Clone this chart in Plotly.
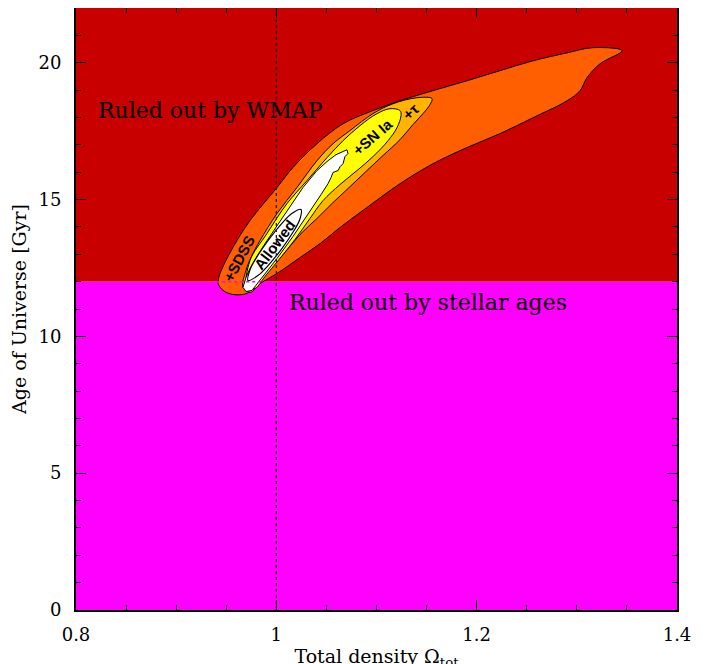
import plotly.graph_objects as go

# ---- data (Omega_tot, Age [Gyr]) ----
x_range = [0.8, 1.4]
y_range = [0, 22]
stellar_age_limit = 12.0

orange_x = [0.9418, 0.942, 0.9438, 0.9567, 0.9737, 1.0007, 1.0166, 1.0406, 1.0666, 1.0965,
            1.1235, 1.1564, 1.1903, 1.2233, 1.2562, 1.2902, 1.3161, 1.3451, 1.3231, 1.3101,
            1.3032, 1.2902, 1.2562, 1.2233, 1.1903, 1.1564, 1.1235, 1.0905, 1.0636, 1.0436,
            1.0236, 1.0007, 0.9837, 0.9707, 0.9567, 0.9468]
orange_y = [11.93, 12.04, 12.30, 13.25, 14.23, 15.44, 16.17, 17.04, 17.77, 18.25,
            18.61, 18.98, 19.34, 19.71, 20.07, 20.36, 20.55, 20.44, 19.96, 19.45,
            18.98, 18.61, 17.99, 17.41, 16.90, 16.31, 15.58, 14.71, 13.98, 13.39,
            12.88, 12.30, 11.93, 11.57, 11.53, 11.68]

gold_x = [0.9667, 0.9697, 0.9757, 0.9837, 1.0007, 1.0206, 1.0406, 1.0566, 1.0735, 1.0965,
          1.1164, 1.1404, 1.1554, 1.1534, 1.1464, 1.1364, 1.1235, 1.1065, 1.0905, 1.0735,
          1.0566, 1.0406, 1.0236, 1.0086, 0.9937, 0.9817, 0.9747]
gold_y = [11.79, 12.41, 12.96, 13.50, 14.49, 15.44, 16.42, 17.04, 17.52, 18.14,
          18.50, 18.72, 18.69, 18.47, 18.14, 17.74, 17.19, 16.61, 16.06, 15.47,
          14.89, 14.31, 13.72, 13.07, 12.45, 11.93, 11.61]

yellow_x = [0.9707, 0.9737, 0.9907, 1.0106, 1.0306, 1.0506, 1.0666, 1.0835, 1.1005, 1.1135,
            1.1235, 1.1245, 1.1205, 1.1115, 1.0965, 1.0815, 1.0636, 1.0466, 1.0336, 1.0186,
            1.0027, 0.9887, 0.9787]
yellow_y = [11.79, 12.77, 13.76, 14.85, 15.69, 16.53, 17.15, 17.70, 18.14, 18.32,
            18.25, 18.07, 17.63, 17.15, 16.57, 16.09, 15.55, 14.96, 14.31, 13.54,
            12.81, 12.19, 11.75]

white_x = [0.9667, 0.9697, 0.9737, 0.9817, 0.9907, 1.0007, 1.0106, 1.0186, 1.0266, 1.0406,
           1.0516, 1.0596, 1.0656, 1.0705, 1.0715, 1.0685, 1.0666, 1.0636, 1.0616, 1.0566,
           1.0546, 1.0516, 1.0446, 1.0326, 1.0166, 1.0007, 0.9867, 0.9757, 0.9697]
white_y = [11.79, 12.15, 12.48, 12.99, 13.50, 14.05, 14.60, 15.04, 15.44, 16.06,
           16.42, 16.64, 16.75, 16.82, 16.68, 16.57, 16.31, 16.20, 16.06, 15.99,
           15.80, 15.58, 15.18, 14.53, 13.65, 12.85, 12.19, 11.68, 11.64]

allowed_x = [0.9717, 0.9739, 0.9800, 0.9922, 1.0060, 1.0154, 1.0246, 1.0234, 1.0172, 1.0050,
             0.9913, 0.9819]
allowed_y = [12.04, 12.45, 12.87, 13.53, 14.15, 14.49, 14.64, 14.27, 13.84, 13.18,
             12.57, 12.23]

x_ticks = [0.8, 1.0, 1.2, 1.4]
x_ticklabels = ["0.8", "1", "1.2", "1.4"]
y_ticks = [0, 5, 10, 15, 20]

# contour labels: (text, x, y, angle)
contour_labels = [
    ("+SDSS", 0.9627, 12.85, -62),
    ("Allowed", 0.9985, 13.35, -53),
    ("+SN Ia", 1.0964, 17.30, -41),
    ("+\u03c4", 1.1344, 18.21, -42),
]

DARKRED = "#C80000"
MAGENTA = "#FF00FF"
ORANGE = "#FF5F00"
GOLD = "#FFB400"
YELLOW = "#FFFF00"

fig = go.Figure()

def region(xs, ys, color, line_w=0, smooth=True):
    fig.add_trace(go.Scatter(x=xs, y=ys, mode="lines", fill="toself", fillcolor=color,
                             line=dict(color="black", width=line_w) if line_w else dict(width=0, color=color),
                             line_shape="spline" if (line_w and smooth) else "linear",
                             hoverinfo="skip", showlegend=False))

# background regions
region([x_range[0], x_range[1], x_range[1], x_range[0]],
       [stellar_age_limit, stellar_age_limit, y_range[1], y_range[1]], DARKRED)
region([x_range[0], x_range[1], x_range[1], x_range[0]],
       [y_range[0], y_range[0], stellar_age_limit, stellar_age_limit], MAGENTA)

# contours
region(orange_x + orange_x[:1], orange_y + orange_y[:1], ORANGE, 1)
region(gold_x + gold_x[:1], gold_y + gold_y[:1], GOLD, 1)
region(yellow_x + yellow_x[:1], yellow_y + yellow_y[:1], YELLOW, 1)
region(white_x + white_x[:1], white_y + white_y[:1], "white", 1, smooth=False)
region(allowed_x + allowed_x[:1], allowed_y + allowed_y[:1], "white", 1.2)

# dotted stellar-age boundary over the contours
fig.add_trace(go.Scatter(x=[0.94, 1.0], y=[stellar_age_limit, stellar_age_limit], mode="lines",
                         line=dict(color=MAGENTA, width=1.5, dash="dot"),
                         hoverinfo="skip", showlegend=False))
# flat universe line
fig.add_trace(go.Scatter(x=[1.0, 1.0], y=y_range, mode="lines",
                         line=dict(color="#222222", width=1.3, dash="dot"),
                         hoverinfo="skip", showlegend=False))

annotations = [
    dict(text="Ruled out by WMAP", x=0.82, y=18.25, xref="x", yref="y", xanchor="left",
         yanchor="middle", showarrow=False,
         font=dict(family="DejaVu Serif", size=22, color="black")),
    dict(text="Ruled out by stellar ages", x=1.0106, y=11.24, xref="x", yref="y",
         xanchor="left", yanchor="middle", showarrow=False,
         font=dict(family="DejaVu Serif", size=22, color="black")),
]
for t, lx, ly, ang in contour_labels:
    annotations.append(dict(text="<b>" + t + "</b>", x=lx, y=ly, xref="x", yref="y", showarrow=False,
                            textangle=ang, xanchor="center", yanchor="middle",
                            font=dict(family="Liberation Sans", size=15, color="black")))

axis_common = dict(showgrid=False, zeroline=False, showline=True, linecolor="black",
                   linewidth=1.8, ticks="inside", ticklen=10, tickwidth=1, tickcolor="black",
                   mirror="allticks", automargin=False,
                   tickfont=dict(family="DejaVu Serif", size=18, color="black"))

fig.update_layout(
    width=705, height=664,
    margin=dict(l=68, r=36, t=0, b=62),
    paper_bgcolor="white", plot_bgcolor="white",
    showlegend=False,
    annotations=annotations,
    xaxis=dict(range=x_range, tickvals=x_ticks, ticktext=x_ticklabels,
               ticklabelstandoff=7,
               minor=dict(ticks="inside", dtick=0.05, tick0=0.8, ticklen=5, tickcolor="black", tickwidth=1),
               title=dict(text="Total density \u03a9<sub>tot</sub>", standoff=6,
                          font=dict(family="DejaVu Serif", size=19, color="black")),
               **axis_common),
    yaxis=dict(range=y_range, tickvals=y_ticks,
               ticklabelstandoff=9,
               minor=dict(ticks="inside", dtick=1, tick0=0, ticklen=5, tickcolor="black", tickwidth=1),
               title=dict(text="Age of Universe [Gyr]", standoff=8,
                          font=dict(family="DejaVu Serif", size=19, color="black")),
               **axis_common),
)

fig.write_html("out.html")
